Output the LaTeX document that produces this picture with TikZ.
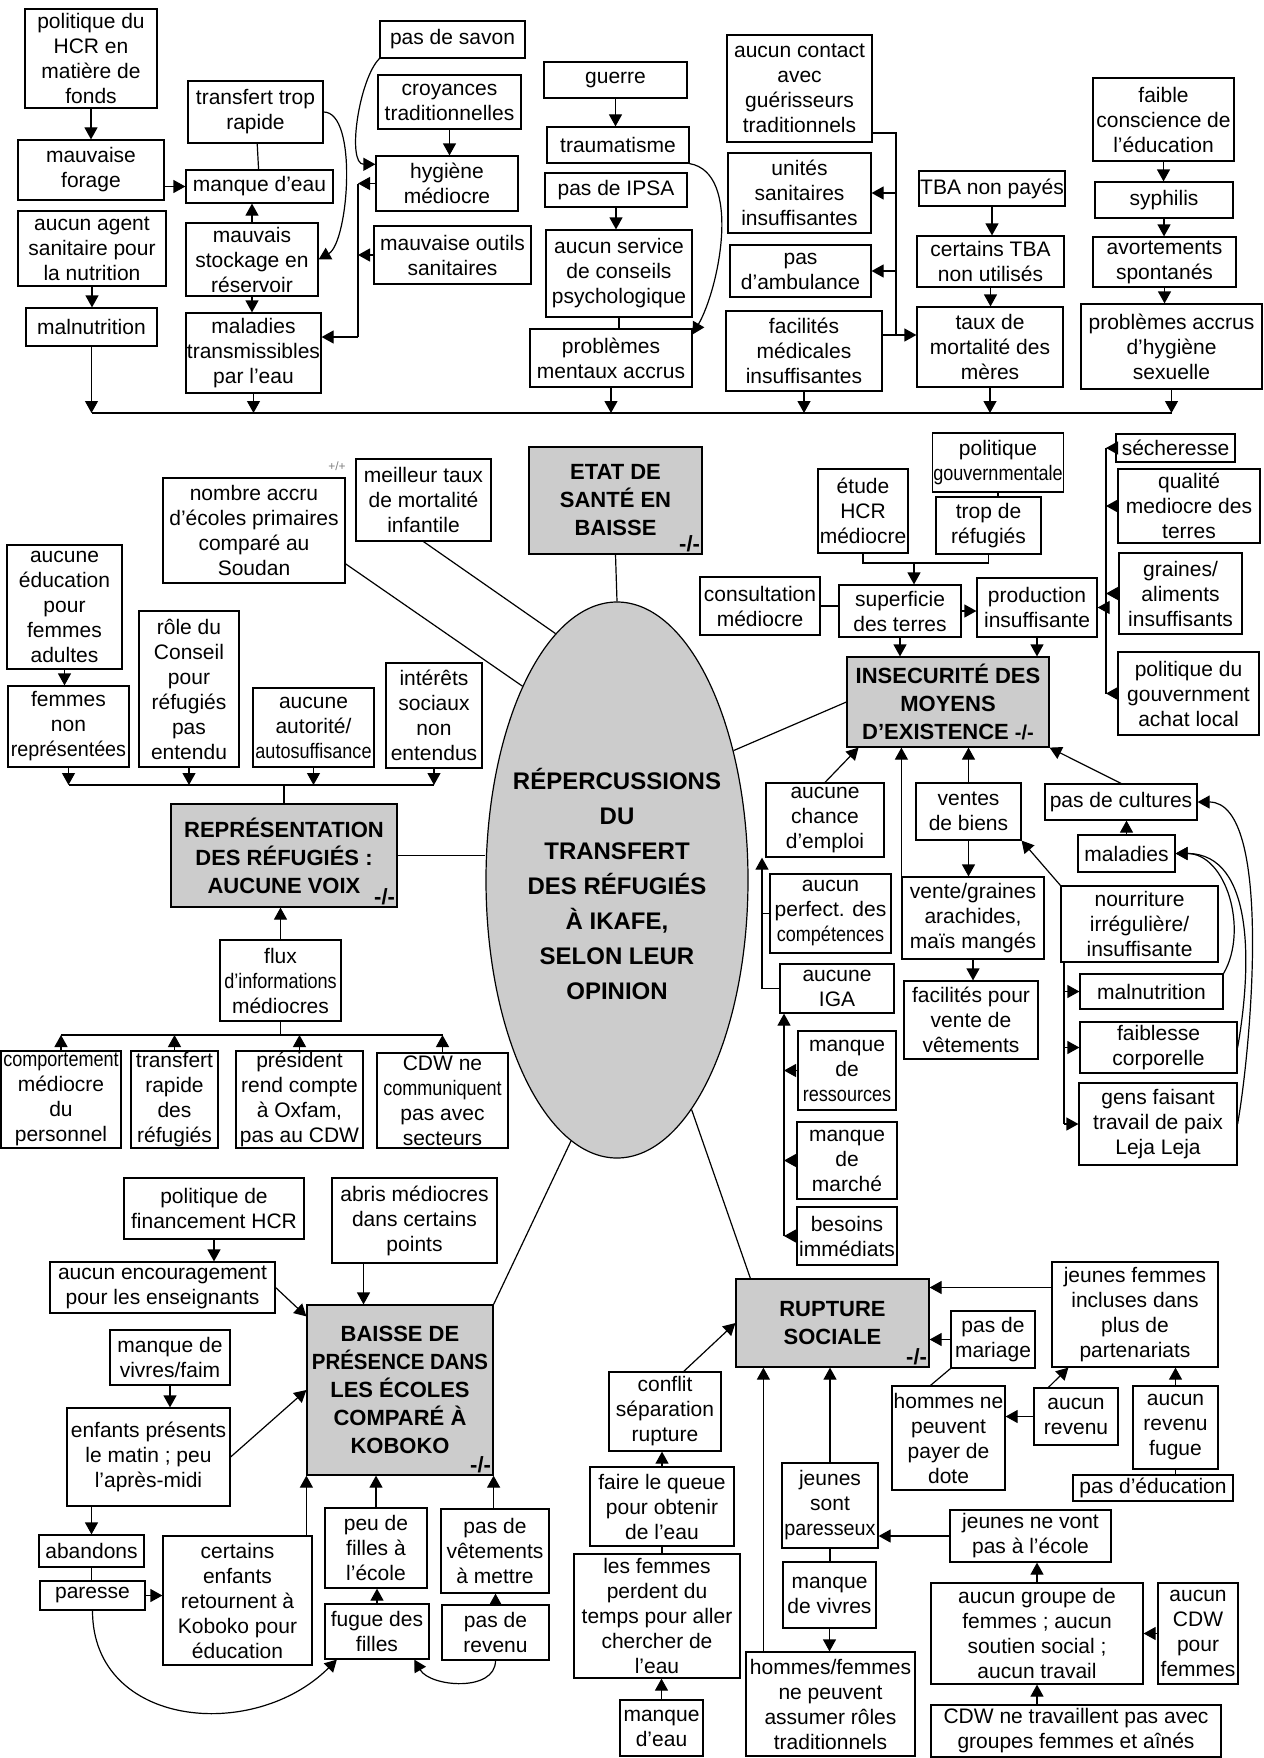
\documentclass[tikz,border=0pt]{standalone}
\usepackage{fontspec}
\setmainfont{Liberation Sans}
\usepackage{graphicx}
\usetikzlibrary{arrows.meta,shapes.geometric}
\tikzset{
mybox/.style={
  draw,
  align=center,
  inner sep=1pt,
  font=\fontsize{21}{25}\selectfont
  },
mytitle/.style={
  mybox,
  fill=gray!40,
  font=\bfseries\fontsize{22}{28}\selectfont
  },
mysign/.style={
  inner sep=2pt,
  anchor=south east,
  font=\bfseries\fontsize{22}{22}\selectfont
  },
wh/.style 2 args={
  minimum width=#1pt,
  minimum height=#2pt
  }
}
\newcommand{\serre}[1]{\scalebox{0.86}[1]{#1}}

\begin{document}
\begin{tikzpicture}[>={Triangle[length=12pt,width=13pt]},x=1pt,y=-1pt,line width=1.2pt]

\useasboundingbox (0,0) rectangle (1263,1758);

\node[mybox,wh={132}{99}] (polhcr) at (91,58.5) {politique du\\HCR en\\matière de\\fonds};
\node[mybox,wh={146}{60}] (forage) at (91,170) {mauvaise\\forage};
\node[mybox,wh={148}{75}] (agent) at (92,248.5) {aucun agent\\sanitaire pour\\la nutrition};
\node[mybox,wh={131}{38}] (malnut1) at (91.5,327) {malnutrition};
\node[mybox,wh={135}{62}] (transfert) at (255.5,112) {transfert trop\\rapide};
\node[mybox,wh={147}{33}] (manqueau) at (259.5,186.5) {manque d’eau};
\node[mybox,wh={132}{73}] (stockage) at (252,259.5) {mauvais\\stockage en\\réservoir};
\node[mybox,wh={135}{80}] (maladies1) at (253.5,353) {maladies\\transmissibles\\par l’eau};
\node[mybox,wh={145}{37}] (savon) at (452.5,39.5) {pas de savon};
\node[mybox,wh={143}{54}] (croyances) at (449.5,102) {croyances\\traditionnelles};
\node[mybox,wh={142}{55}] (hygiene) at (447,183.5) {hygiène\\médiocre};
\node[mybox,wh={157}{58}] (outils) at (452.5,255) {mauvaise outils\\sanitaires};
\node[mybox,wh={143}{36}] (guerre) at (615.5,80) {guerre};
\node[mybox,wh={142}{36}] (trauma) at (618,145) {traumatisme};
\node[mybox,wh={142}{34}] (ipsa) at (616,190) {pas de IPSA};
\node[mybox,wh={146}{87}] (conseil) at (619,273.5) {aucun service\\de conseils\\psychologique};
\node[mybox,wh={162}{58}] (mentaux) at (611,358) {problèmes\\mentaux accrus};
\node[mybox,wh={145}{107}] (contact) at (799.5,88.5) {aucun contact\\avec\\guérisseurs\\traditionnels};
\node[mybox,wh={143}{80}] (unites) at (799.5,193) {unités\\sanitaires\\insuffisantes};
\node[mybox,wh={141}{52}] (ambul) at (800.5,271) {pas\\d’ambulance};
\node[mybox,wh={156}{80}] (facmed) at (804,351) {facilités\\médicales\\insuffisantes};
\node[mybox,wh={146}{35}] (tbapaye) at (992,188.5) {TBA non payés};
\node[mybox,wh={147}{51}] (tbanon) at (990.5,261.5) {certains TBA\\non utilisés};
\node[mybox,wh={146}{80}] (meres) at (990,347) {taux de\\mortalité des\\mères};
\node[mybox,wh={141}{83}] (conscience) at (1163.5,119.5) {faible\\conscience de\\l’éducation};
\node[mybox,wh={138}{36}] (syphilis) at (1164,200) {syphilis};
\node[mybox,wh={143}{50}] (avort) at (1164.5,262) {avortements\\spontanés};
\node[mybox,wh={181}{85}] (sexuelle) at (1171.5,346.5) {problèmes accrus\\d’hygiène\\sexuelle};

\node[mytitle,wh={173}{107}] (etat) at (615.5,500.5) {ETAT DE\\SANTÉ EN\\BAISSE};
\node[mysign] (etat-s) at (etat.south east) {-/-};
\node[mybox,wh={135}{82}] (meilleur) at (423.5,500) {meilleur taux\\de mortalité\\infantile};
\node[mybox,wh={182}{105}] (nombre) at (254,530.5) {nombre accru\\d’écoles primaires\\comparé au\\Soudan};
\node[text=gray,font=\fontsize{12}{12}\selectfont] (plus) at (337,466) {+/+};
\node[mybox,wh={115}{124}] (educ) at (64.5,607) {aucune\\éducation\\pour\\femmes\\adultes};
\node[mybox,wh={121}{81}] (femmes) at (68.5,726.5) {femmes\\non\\\scalebox{0.94}[1]{représentées}};
\node[mybox,wh={100}{156}] (role) at (189,689) {rôle du\\Conseil\\pour\\réfugiés\\pas\\entendu};
\node[mybox,wh={121}{79}] (autorite) at (313.5,727.5) {aucune\\autorité/\\\serre{autosuffisance}};
\node[mybox,wh={96}{105}] (interets) at (434,715.5) {intérêts\\sociaux\\non\\entendus};
\node[mytitle,wh={226}{103}] (repr) at (284,855.5) {REPRÉSENTATION\\DES RÉFUGIÉS :\\AUCUNE VOIX};
\node[mysign] (repr-s) at (repr.south east) {-/-};
\node[mybox,wh={121}{81}] (flux) at (280.5,980.5) {flux\\\serre{d’informations}\\médiocres};
\node[mybox,wh={120}{97}] (comport) at (61,1099.5) {\serre{comportement}\\médiocre\\du\\personnel};
\node[mybox,wh={87}{97}] (transrap) at (174.5,1099.5) {transfert\\rapide\\des\\réfugiés};
\node[mybox,wh={127}{97}] (president) at (299.5,1099.5) {président\\rend compte\\à Oxfam,\\pas au CDW};
\node[mybox,wh={131}{95}] (cdwcomm) at (442.5,1100.5) {CDW ne\\\serre{communiquent}\\pas avec\\secteurs};

\node[ellipse,draw,fill=gray!40,minimum width=262pt,minimum height=556pt,inner sep=0pt] (centre) at (617,880) {};
\node[align=center,font=\bfseries\fontsize{24}{35}\selectfont] (titre) at (617,884) {RÉPERCUSSIONS\\DU\\TRANSFERT\\DES RÉFUGIÉS\\À IKAFE,\\SELON LEUR\\OPINION};

\node[mybox,wh={130}{59}] (polgouv) at (998,462.5) {politique\\\serre{gouvernmentale}};
\node[mybox,wh={90}{84}] (etude) at (863,511) {étude\\HCR\\médiocre};
\node[mybox,wh={105}{57}] (trop) at (988.5,525.5) {trop de\\réfugiés};
\node[mybox,wh={120}{58}] (consult) at (760,606) {consultation\\médiocre};
\node[mybox,wh={122}{52}] (superf) at (900,611) {superficie\\des terres};
\node[mybox,wh={120}{59}] (prod) at (1037,607.5) {production\\insuffisante};
\node[mybox,wh={119}{28}] (secher) at (1175.5,448) {sécheresse};
\node[mybox,wh={142}{74}] (qualite) at (1189,506) {qualité\\mediocre des\\terres};
\node[mybox,wh={123}{81}] (graines) at (1180.5,593.5) {graines/\\aliments\\insuffisants};
\node[mybox,wh={141}{83}] (polachat) at (1188.5,693.5) {politique du\\gouvernment\\achat local};
\node[mytitle,wh={202}{90}] (insec) at (948,702) {INSECURITÉ DES\\MOYENS\\D’EXISTENCE {\fontsize{20}{20}\selectfont -/-}};
\node[mybox,wh={118}{74}] (chance) at (825,820) {aucune\\chance\\d’emploi};
\node[mybox,wh={121}{79}] (perfect) at (830.5,913.5) {aucun\\perfect. des\\\serre{compétences}};
\node[mybox,wh={114}{49}] (iga) at (837,988.5) {aucune\\IGA};
\node[mybox,wh={98}{79}] (ressour) at (847,1070.5) {manque\\de\\\serre{ressources}};
\node[mybox,wh={100}{77}] (marche) at (847,1160.5) {manque\\de\\marché};
\node[mybox,wh={100}{58}] (besoins) at (847,1236) {besoins\\immédiats};
\node[mybox,wh={105}{57}] (ventes) at (968.5,811.5) {ventes\\de biens};
\node[mybox,wh={142}{82}] (vente) at (973,918) {vente/graines\\arachides,\\maïs mangés};
\node[mybox,wh={134}{78}] (facvent) at (971,1020) {facilités pour\\vente de\\vêtements};
\node[mybox,wh={152}{36}] (cultures) at (1121,802) {pas de cultures};
\node[mybox,wh={97}{37}] (maladies2) at (1126.5,853.5) {maladies};
\node[mybox,wh={157}{76}] (nourrit) at (1139.5,924) {nourriture\\irrégulière/\\insuffisante};
\node[mybox,wh={143}{35}] (malnut2) at (1151.5,991.5) {malnutrition};
\node[mybox,wh={157}{51}] (faibl) at (1158.5,1047.5) {faiblesse\\corporelle};
\node[mybox,wh={158}{82}] (gens) at (1158,1124) {gens faisant\\travail de paix\\Leja Leja};

\node[mybox,wh={180}{61}] (financ) at (214,1208.5) {politique de\\financement HCR};
\node[mybox,wh={225}{51}] (encour) at (162.5,1287.5) {aucun encouragement\\pour les enseignants};
\node[mybox,wh={165}{85}] (abris) at (414.5,1220.5) {abris médiocres\\dans certains\\points};
\node[mytitle,wh={186}{170}] (baisse) at (400,1390) {BAISSE DE\\\scalebox{0.93}[1]{PRÉSENCE DANS}\\LES ÉCOLES\\COMPARÉ À\\KOBOKO};
\node[mysign] (baisse-s) at (baisse.south east) {-/-};
\node[mybox,wh={120}{55}] (vivres) at (170,1357.5) {manque de\\vivres/faim};
\node[mybox,wh={163}{98}] (enfants) at (148.5,1457) {enfants présents\\le matin ; peu\\l’après-midi};
\node[mybox,wh={105}{32}] (abandons) at (91.5,1551) {abandons};
\node[mybox,wh={105}{29}] (paresse) at (92.5,1595.5) {paresse};
\node[mybox,wh={149}{129}] (certains) at (237.5,1600.5) {certains\\enfants\\retournent à\\Koboko pour\\éducation};
\node[mybox,wh={102}{80}] (peufilles) at (376,1548) {peu de\\filles à\\l’école};
\node[mybox,wh={104}{55}] (fugue) at (377,1631.5) {fugue des\\filles};
\node[mybox,wh={108}{84}] (vetements) at (495,1551) {pas de\\vêtements\\à mettre};
\node[mybox,wh={107}{55}] (revenu1) at (495.5,1632.5) {pas de\\revenu};

\node[mytitle,wh={193}{88}] (rupture) at (832.5,1323) {RUPTURE\\SOCIALE};
\node[mysign] (rupture-s) at (rupture.south east) {-/-};
\node[mybox,wh={166}{105}] (jfemmes) at (1135,1314.5) {jeunes femmes\\incluses dans\\plus de\\partenariats};
\node[mybox,wh={84}{57}] (mariage) at (993,1339.5) {pas de\\mariage};
\node[mybox,wh={113}{104}] (dote) at (948.5,1438) {hommes ne\\peuvent\\payer de\\dote};
\node[mybox,wh={84}{57}] (revenu2) at (1076,1416.5) {aucun\\revenu};
\node[mybox,wh={85}{83}] (fugue2) at (1175.5,1427.5) {aucun\\revenu\\fugue};
\node[mybox,wh={160}{26}] (paseduc) at (1153,1488) {pas d’éducation};
\node[mybox,wh={112}{79}] (conflit) at (665,1411.5) {conflit\\séparation\\rupture};
\node[mybox,wh={144}{79}] (queue) at (662,1506.5) {faire le queue\\pour obtenir\\de l’eau};
\node[mybox,wh={166}{124}] (perdent) at (657,1616) {les femmes\\perdent du\\temps pour aller\\chercher de\\l’eau};
\node[mybox,wh={83}{56}] (manqueau2) at (661.5,1728) {manque\\d’eau};
\node[mybox,wh={96}{85}] (paresseux) at (830,1505.5) {jeunes\\sont\\\scalebox{0.94}[1]{paresseux}};
\node[mybox,wh={93}{66}] (vivres2) at (829.5,1595) {manque\\de vivres};
\node[mybox,wh={169}{104}] (roles) at (830.5,1704) {hommes/femmes\\ne peuvent\\assumer rôles\\traditionnels};
\node[mybox,wh={161}{52}] (ecole) at (1030.5,1536) {jeunes ne vont\\pas à l’école};
\node[mybox,wh={212}{101}] (groupe) at (1037,1633.5) {aucun groupe de\\femmes ; aucun\\soutien social ;\\aucun travail};
\node[mybox,wh={80}{101}] (cdwpour) at (1198,1633.5) {aucun\\CDW\\pour\\femmes};
\node[mybox,wh={290}{52}] (cdwtrav) at (1076,1731) {CDW ne travaillent pas avec\\groupes femmes et aînés};

\coordinate (busL) at (91.5,413);
\coordinate (busR) at (1171.5,413);
\coordinate (hyt) at (358,183.5);
\coordinate (hyb) at (358,337);
\coordinate (ct) at (896,133);
\coordinate (cb) at (896,335);
\coordinate (eb) at (914,563);
\coordinate (pt) at (1106,448);
\coordinate (rb) at (284,785);
\coordinate (fb) at (280.5,1035);
\coordinate (ig) at (762,988.5);
\coordinate (gb) at (784,1236);
\coordinate (nt) at (1064,962);
\coordinate (ab) at ([xshift=-51pt]abris.south);
\coordinate (jf) at ([yshift=27pt]jfemmes.west);
\coordinate (rl) at ([xshift=18pt]roles.north west);

\draw (busL) -- (busR);
\draw[->] (polhcr) -- (forage);
\draw[->] (forage.east |- manqueau) -- (manqueau.west);
\draw (transfert) -- (manqueau);
\draw[->] (stockage.north) -- (stockage.north |- manqueau.south);
\draw[->] (stockage.south) -- (stockage.south |- maladies1.north);
\draw[->] (agent.south) -- (agent.south |- malnut1.north);
\draw[->] (transfert.east) to[out=0,in=30,looseness=0.6] (stockage.east);
\draw[->] (savon.south west) to[out=225,in=180,looseness=0.7] (hygiene.165);
\draw[->] (croyances.south) -- (croyances.south |- hygiene.north);
\draw (hyt) -- (hyb);
\draw[->] (hygiene.west) -- (hyt);
\draw[->] (outils.west) -- (outils.west -| hyt);
\draw[->] (hyb) -- (hyb -| maladies1.east);
\draw[->] (guerre.south) -- (guerre.south |- trauma.north);
\draw[->] (ipsa.south) -- (ipsa.south |- conseil.north);
\draw (conseil.south) -- (conseil.south |- mentaux.north);
\draw[->] (trauma.south east) to[out=-10,in=60,looseness=0.8] ([yshift=-6pt]mentaux.north east);
\draw (ct -| contact.east) -- (ct) -- (cb);
\draw[->] (unites.east -| ct) -- (unites.east);
\draw[->] (ambul.east -| ct) -- (ambul.east);
\draw[->] (facmed.east |- cb) -- (cb -| meres.west);
\draw[->] (tbapaye.south) -- (tbapaye.south |- tbanon.north);
\draw[->] (tbanon.south) -- (tbanon.south |- meres.north);
\draw[->] (conscience.south) -- (conscience.south |- syphilis.north);
\draw[->] (syphilis.south) -- (syphilis.south |- avort.north);
\draw[->] (avort.south) -- (avort.south |- sexuelle.north);
\draw[->] (malnut1.south) -- (malnut1.south |- busL);
\draw[->] (maladies1.south) -- (maladies1.south |- busL);
\draw[->] (mentaux.south) -- (mentaux.south |- busL);
\draw[->] (facmed.south) -- (facmed.south |- busL);
\draw[->] (meres.south) -- (meres.south |- busL);
\draw[->] (sexuelle.south) -- (sexuelle.south |- busL);

\draw (etat.south) -- (centre.north);
\draw (meilleur.south) -- (centre.104);
\draw (nombre.-20) -- (centre.116);
\draw[->] (educ.south) -- (educ.south |- femmes.north);
\draw (femmes.south |- rb) -- (interets.south |- rb);
\draw[->] (femmes.south) -- (femmes.south |- rb);
\draw[->] (role.south) -- (role.south |- rb);
\draw[->] (autorite.south) -- (autorite.south |- rb);
\draw[->] (interets.south) -- (interets.south |- rb);
\draw (rb) -- (repr.north);
\draw (repr.east) -- (repr.east -| centre.west);
\draw[->] (flux.north) -- (flux.north |- repr.south);
\draw (flux.south) -- (fb);
\draw (comport.north |- fb) -- (cdwcomm.north |- fb);
\draw[->] (comport.north) -- (comport.north |- fb);
\draw[->] (transrap.north) -- (transrap.north |- fb);
\draw[->] (president.north) -- (president.north |- fb);
\draw[->] (cdwcomm.north) -- (cdwcomm.north |- fb);

\draw (polgouv.south) -- (polgouv.south |- trop.north);
\draw (etude.south) |- (eb) -| (trop.south);
\draw[->] (eb) -- (eb |- superf.north);
\draw (consult.east) -- (consult.east -| superf.west);
\draw[->] (superf.east) -- (superf.east -| prod.west);
\draw[->] (superf.south) -- (superf.south |- insec.north);
\draw[->] (prod.south) -- (prod.south |- insec.north);
\draw (secher.west -| pt) -- (polachat.west -| pt);
\draw[->] (secher.west) -- (secher.west -| pt);
\draw[->] (qualite.west) -- (qualite.west -| pt);
\draw[->] (graines.west) -- (graines.west -| pt);
\draw[->] (polachat.west) -- (polachat.west -| pt);
\draw[->] (prod.east -| pt) -- (prod.east);
\draw (insec.west) -- (centre.48);
\draw[->] (chance.north) -- (insec.207);
\draw[->] (vente.south west) -- (vente.south west |- insec.south);
\draw[->] (ventes.north) -- (ventes.north |- insec.south);
\draw[->] (ventes.south) -- (ventes.south |- vente.north);
\draw[->] (vente.south) -- (vente.south |- facvent.north);
\draw[->] (cultures.north) -- (insec.south east);
\draw[->] (maladies2.north) -- (maladies2.north |- cultures.south);
\draw[->] (nourrit.north west) -- (ventes.south east);
\draw (nt) -- (nt |- gens.west);
\draw[->] (nt |- malnut2.west) -- (malnut2.west);
\draw[->] (nt |- faibl.west) -- (faibl.west);
\draw[->] (nt |- gens.west) -- (gens.west);
\draw[->] (malnut2.north east) to[out=60,in=0] (maladies2.east);
\draw[->] (faibl.east) to[out=80,in=0] (maladies2.east);
\draw[->] (gens.east) to[out=80,in=0,looseness=0.6] (cultures.east);
\draw[->] (iga.west) -- (ig) -- (ig |- chance.south);
\draw (perfect.west) -- (perfect.west -| ig);
\draw[->] (gb) -- (gb |- iga.south);
\draw[->] (ressour.west) -- (ressour.west -| gb);
\draw[->] (marche.west) -- (marche.west -| gb);
\draw[->] (besoins.west) -- (gb);

\draw[->] (financ.south) -- (financ.south |- encour.north);
\draw[->] (ab) -- (ab |- baisse.north);
\draw[->] (encour.east) -- ([yshift=-12pt]baisse.north west);
\draw[->] (vivres.south) -- (vivres.south |- enfants.north);
\draw[->] (enfants.east) -- (baisse.west);
\draw[->] (abandons.north |- enfants.south) -- (abandons.north);
\draw (abandons.south) -- (abandons.south |- paresse.north);
\draw[->] (paresse.east) -- (paresse.east -| certains.west);
\draw[->] (baisse.south west |- certains.north) -- (baisse.south west);
\draw[->] (peufilles.north) -- (peufilles.north |- baisse.south);
\draw[->] (fugue.north) -- (fugue.north |- peufilles.south);
\draw[->] (baisse.south east |- vetements.north) -- (baisse.south east);
\draw[->] (revenu1.north) -- (revenu1.north |- vetements.south);
\draw[->] (revenu1.south) to[out=-90,in=-60] (fugue.-37);
\draw[->] (paresse.south) to[out=-90,in=-135,looseness=1.2] (fugue.-145);
\draw (baisse.north east) -- (centre.260);

\draw ([xshift=15pt]rupture.north west) -- (centre.288);
\draw[->] (jf) -- (jf -| rupture.east);
\draw[->] (mariage.west) -- (mariage.west -| rupture.east);
\draw ([xshift=-18pt]dote.north) -- (mariage.south west);
\draw[->] (revenu2.west) -- (revenu2.west -| dote.east);
\draw[->] ([xshift=15pt]revenu2.north west) -- ([xshift=17pt]jfemmes.south west);
\draw[->] (fugue2.north) -- (fugue2.north |- jfemmes.south);
\draw (fugue2.south) -- (fugue2.south |- paseduc.north);
\draw[->] (conflit.65) -- (rupture.west);
\draw[->] (queue.north) -- (queue.north |- conflit.south);
\draw (queue.south) -- (queue.south |- perdent.north);
\draw[->] (manqueau2.north) -- (manqueau2.north |- perdent.south);
\draw[->] (rl) -- (rl |- rupture.south);
\draw[->] (paresseux.north) -- (paresseux.north |- rupture.south);
\draw (paresseux.south) -- (paresseux.south |- vivres2.north);
\draw[->] (vivres2.south) -- (vivres2.south |- roles.north);
\draw[->] (ecole.west) -- (ecole.west -| paresseux.east);
\draw[->] (groupe.north) -- (groupe.north |- ecole.south);
\draw[->] (cdwpour.west) -- (cdwpour.west -| groupe.east);
\draw[->] (groupe.south |- cdwtrav.north) -- (groupe.south);

\end{tikzpicture}
\end{document}
